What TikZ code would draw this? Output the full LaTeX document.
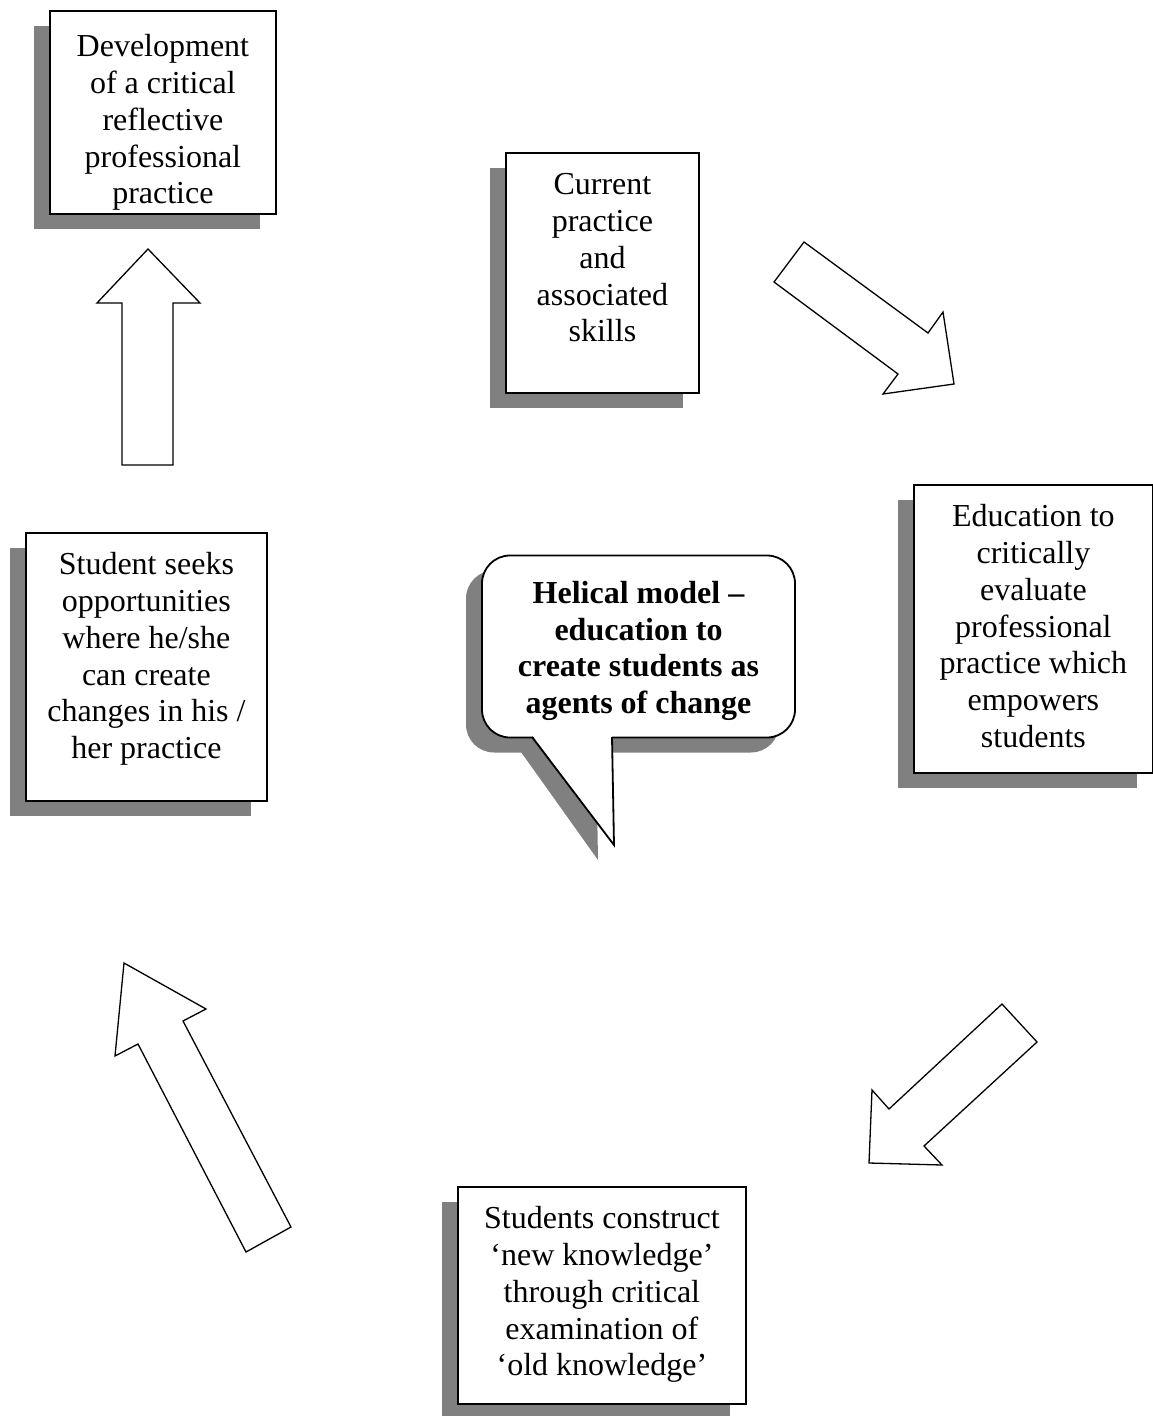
\documentclass[tikz,border=0pt]{standalone}
\usepackage{fontspec}
\setmainfont{Liberation Serif}
\usetikzlibrary{shadows}

\definecolor{shadowgray}{RGB}{128,128,128}
% text set at the top of a framed box
\newcommand{\boxtext}[4][16]{\parbox[c][#3pt][t]{#2pt}{\centering\vspace*{#1pt}\strut #4}}

\begin{document}
\begin{tikzpicture}[x=1pt,y=-1pt,
	every node/.style={font=\fontsize{32}{36.8}\selectfont},
	panel/.style={draw,fill=white,line width=1.8pt,inner sep=0pt,anchor=north west,
		general shadow={fill=shadowgray,shadow xshift=-16pt,shadow yshift=-15pt}},
	bubble/.style={draw,fill=white,line width=1.8pt,rounded corners=28pt,align=center,
		minimum width=313pt,minimum height=182pt,inner sep=0pt,
		font=\fontsize{32}{36.8}\selectfont\bfseries,
		general shadow={fill=shadowgray,shadow xshift=-16pt,shadow yshift=-15pt}},
	blockarrow/.style={draw,fill=white,line width=1.3pt,line join=miter}]

\useasboundingbox (0,0) rectangle (1152,1416);

\node[panel](dev) at (49,10) {\boxtext[20]{226}{203}{Development\\of a critical\\reflective\\professional\\practice}};
\node[panel](cur) at (505,152) {\boxtext{193}{240}{Current\\practice\\and\\associated\\skills}};
\node[panel](edu) at (913,484) {\boxtext{239}{288}{Education to\\critically\\evaluate\\professional\\practice which\\empowers\\students}};
\node[panel](seek) at (25,532) {\boxtext{241}{268}{Student seeks\\opportunities\\where he/she\\can create\\changes in his /\\her practice}};
\node[panel](new) at (457,1186) {\boxtext{288}{217}{Students construct\\‘new knowledge’\\through critical\\examination of\\‘old knowledge’}};

% speech bubble in the middle
\fill[shadowgray] (516,745) -- (598,860) -- (596,745) -- cycle;
\node[bubble](model) at (638.5,646.5) {\rule{0pt}{31pt}Helical model –\\education to\\create students as\\agents of change};
\fill[white] (532,735) -- (614,845) -- (612,735) -- cycle;
\draw[line width=1.8pt] (532,737) -- (614,845) -- (612,737);

% block arrows
\draw[blockarrow] (804,242) -- (928,333) -- (943,312) -- (954,384) -- (883,394) -- (898,374) -- (774,282) -- cycle;
\draw[blockarrow] (1002,1004) -- (1037,1042) -- (924,1146) -- (942,1165) -- (869,1163) -- (872,1090) -- (889,1109) -- cycle;
\draw[blockarrow] (124,963) -- (206,1009) -- (183,1021) -- (291,1227) -- (246,1252) -- (138,1044) -- (115,1056) -- cycle;
\draw[blockarrow] (148,249) -- (200,303) -- (173,303) -- (173,465) -- (122,465) -- (122,303) -- (97,303) -- cycle;
\end{tikzpicture}
\end{document}
